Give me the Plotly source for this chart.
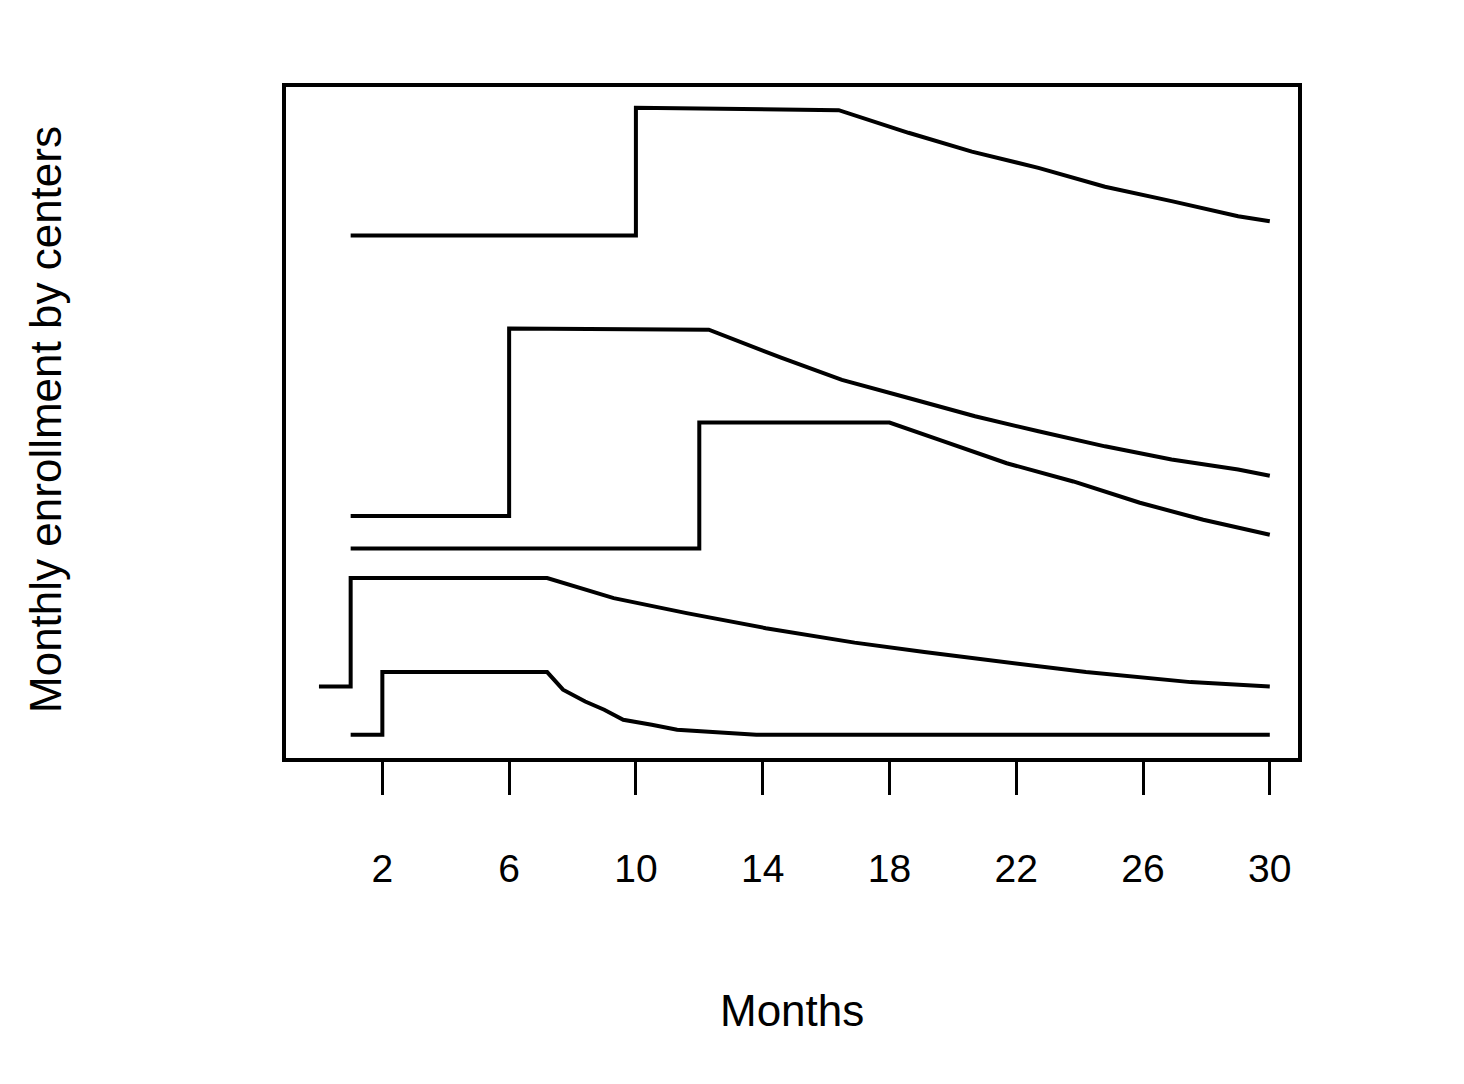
import plotly.graph_objects as go

# x tick labels (months)
tick_vals = [2, 6, 10, 14, 18, 22, 26, 30]

# Center enrollment profiles (months, relative enrollment units)
a_x = [1, 10, 10, 16.4, 18.6, 20.6, 22.7, 24.8, 26.9, 29.0, 30]
a_y = [79.6, 79.6, 100.0, 99.6, 96.0, 93.0, 90.4, 87.4, 85.1, 82.7, 81.9]

b_x = [1, 6, 6, 12.3, 14.6, 16.5, 18.6, 20.7, 22.7, 24.8, 26.9, 29.0, 30]
b_y = [34.9, 34.9, 64.8, 64.6, 60.1, 56.6, 53.7, 50.8, 48.4, 46.0, 43.9, 42.3, 41.3]

c_x = [1, 12, 12, 18.0, 19.6, 21.7, 23.8, 25.9, 27.9, 30]
c_y = [29.7, 29.7, 49.8, 49.8, 47.0, 43.3, 40.4, 37.0, 34.3, 31.9]

d_x = [0, 1, 1, 7.2, 9.3, 11.6, 14.1, 16.9, 19.1, 21.6, 24.2, 27.5, 30]
d_y = [7.7, 7.7, 25.0, 25.0, 21.8, 19.4, 17.0, 14.7, 13.2, 11.6, 10.0, 8.4, 7.7]

e_x = [1, 2, 2, 7.2, 7.7, 8.4, 9.0, 9.6, 10.5, 11.3, 13.8, 30]
e_y = [0, 0, 10.0, 10.0, 7.2, 5.3, 4.0, 2.4, 1.6, 0.8, 0, 0]

series = [(a_x, a_y), (b_x, b_y), (c_x, c_y), (d_x, d_y), (e_x, e_y)]

fig = go.Figure()
for xs, ys in series:
    fig.add_trace(go.Scatter(x=xs, y=ys, mode="lines",
                             line=dict(color="black", width=4),
                             showlegend=False, hoverinfo="skip"))

font_family = "Liberation Sans, Arial, sans-serif"

fig.update_layout(
    width=1456, height=1076,
    margin=dict(l=278, r=166, t=79, b=326),
    paper_bgcolor="white", plot_bgcolor="white",
    font=dict(family=font_family, size=38, color="black"),
    xaxis=dict(range=[-1.04, 30.89], tickvals=tick_vals,
               ticktext=[str(v) for v in tick_vals],
               ticks="outside", ticklen=33, tickwidth=3, tickcolor="black",
               ticklabelstandoff=40,
               showline=True, linecolor="black", linewidth=4, mirror=True,
               showgrid=False, zeroline=False,
               tickfont=dict(size=39, family=font_family, color="black")),
    yaxis=dict(range=[-3.7, 103.3], showticklabels=False, ticks="",
               showline=True, linecolor="black", linewidth=4, mirror=True,
               showgrid=False, zeroline=False),
    annotations=[
        dict(text="Months", xref="paper", yref="paper",
             x=0.5, y=-0.376, xanchor="center", yanchor="middle",
             showarrow=False, font=dict(size=44, family=font_family, color="black")),
        dict(text="Monthly enrollment by centers", xref="paper", yref="paper",
             x=-0.237, y=0.504, xanchor="center", yanchor="middle",
             textangle=-90, showarrow=False,
             font=dict(size=44, family=font_family, color="black")),
    ],
)

fig.write_html("out.html", config={"displayModeBar": False})
